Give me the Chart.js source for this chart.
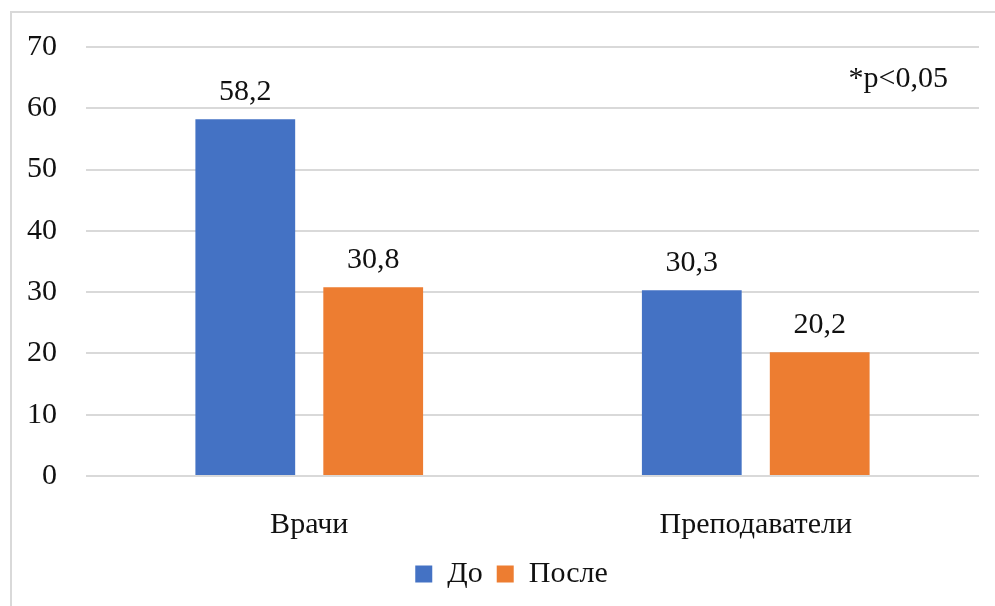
<!DOCTYPE html>
<html>
<head>
<meta charset="utf-8">
<script src="https://cdn.jsdelivr.net/npm/chart.js@4.4.1/dist/chart.umd.min.js"></script>
<style>
  html, body { margin: 0; padding: 0; background: #fff; overflow: hidden; }
  #wrap { position: relative; width: 995px; height: 606px; }
  #frame { position: absolute; left: 10px; top: 11px; width: 1000px; height: 700px;
           border: 2px solid #d9d9d9; pointer-events: none; }
</style>
</head>
<body>
<div id="wrap">
  <canvas id="chart" width="995" height="606"></canvas>
  <div id="frame"></div>
</div>
<script>
const categories = ['Врачи', 'Преподаватели'];
const seriesNames = ['До', 'После'];
const beforeValues = [58.2, 30.3];
const afterValues = [30.8, 20.2];
const yTicks = [0, 10, 20, 30, 40, 50, 60, 70];
const note = '*p<0,05';

const FONT = '"Liberation Serif", "Times New Roman", serif';
const SIZE = 30;

// подписи значений над столбцами и примечание
const labelsPlugin = {
  id: 'valueLabels',
  afterDatasetsDraw(chart) {
    const ctx = chart.ctx;
    ctx.save();
    ctx.font = SIZE + 'px ' + FONT;
    ctx.fillStyle = '#111';
    ctx.textAlign = 'center';
    ctx.textBaseline = 'alphabetic';
    chart.data.datasets.forEach((ds, i) => {
      chart.getDatasetMeta(i).data.forEach((bar, j) => {
        ctx.fillText(String(ds.data[j]).replace('.', ','), bar.x, bar.y - 19);
      });
    });
    const area = chart.chartArea;
    ctx.textAlign = 'right';
    ctx.fillText(note, area.right - 31, area.top + 40);
    ctx.restore();
  }
};

// легенду чуть правее, как в оригинале
const legendShift = {
  id: 'legendShift',
  afterLayout(chart) {
    const lg = chart.legend;
    if (!lg) return;
    lg.left += 22;
    lg.right += 22;
  }
};

new Chart(document.getElementById('chart'), {
  type: 'bar',
  data: {
    labels: categories,
    datasets: [
      { label: seriesNames[0], data: beforeValues, backgroundColor: '#4472C4' },
      { label: seriesNames[1], data: afterValues, backgroundColor: '#ED7D31' }
    ]
  },
  options: {
    responsive: false,
    animation: false,
    categoryPercentage: 0.573,
    barPercentage: 0.78,
    layout: { padding: { left: 0, right: 16, top: 45, bottom: 7 } },
    plugins: {
      tooltip: { enabled: false },
      legend: {
        position: 'bottom',
        labels: {
          font: { family: FONT, size: SIZE },
          color: '#111',
          boxWidth: 17,
          boxHeight: 17,
          padding: 14
        }
      }
    },
    scales: {
      x: {
        grid: { display: false },
        border: { display: false },
        ticks: { font: { family: FONT, size: SIZE }, color: '#111', padding: 23 },
        afterFit(scale) { scale.height = 69; }
      },
      y: {
        min: 0,
        max: 70,
        afterBuildTicks(scale) { scale.ticks = yTicks.map(v => ({ value: v })); },
        grid: { color: '#d9d9d9', lineWidth: 2, drawTicks: false },
        border: { display: false },
        ticks: { font: { family: FONT, size: SIZE }, color: '#111', padding: 29 },
        afterFit(scale) { scale.width = 86; }
      }
    }
  },
  plugins: [labelsPlugin, legendShift]
});
</script>
</body>
</html>
